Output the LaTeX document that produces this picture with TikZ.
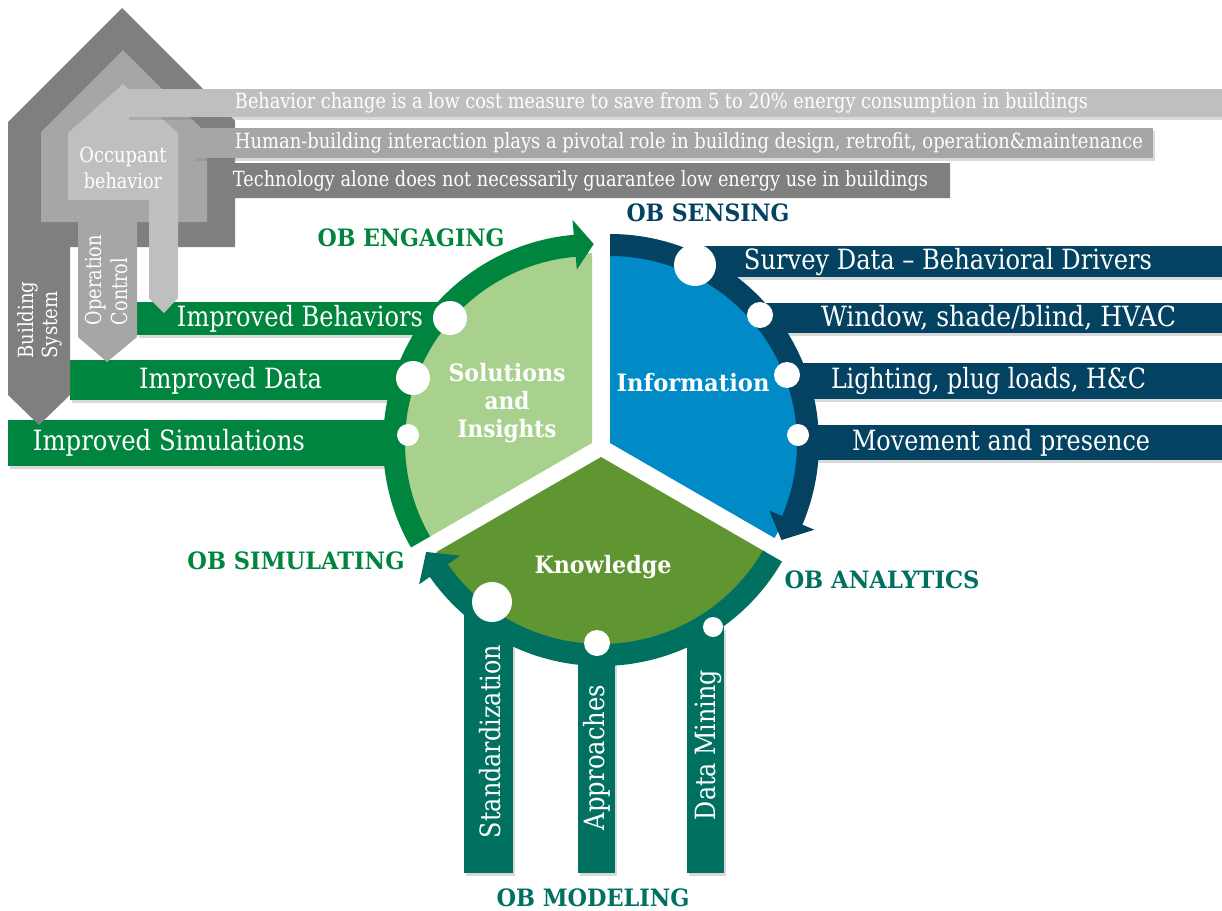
\documentclass[tikz,border=0pt]{standalone}
\usepackage{fontspec}
\setmainfont{DejaVu Serif}
\usepackage{graphicx}
\usetikzlibrary{shadows}

\definecolor{obgreen}{RGB}{0,133,62}
\definecolor{solgreen}{RGB}{169,209,142}
\definecolor{knowgreen}{RGB}{96,150,50}
\definecolor{obteal}{RGB}{0,112,96}
\definecolor{infoblue}{RGB}{0,138,198}
\definecolor{obnavy}{RGB}{3,66,97}
\definecolor{greyA}{RGB}{127,127,127}
\definecolor{greyB}{RGB}{166,166,166}
\definecolor{greyC}{RGB}{191,191,191}

% squeeze or stretch a text to a given width (in bp)
\newcommand{\fitw}[2]{\resizebox{#1bp}{\height}{#2}}

\tikzset{
  lift/.style={drop shadow={shadow xshift=1.5bp, shadow yshift=-2.5bp, opacity=.3}},
  knob/.style={circle, fill=white, inner sep=0pt, minimum size=#1},
  bartext/.style={text=white, inner sep=0pt, font=\fontsize{28}{30}\selectfont},
  greytext/.style={text=white, inner sep=0pt, font=\fontsize{21}{24}\selectfont},
  obtitle/.style={inner sep=0pt, font=\bfseries\fontsize{24}{26}\selectfont},
  sectortext/.style={text=white, inner sep=0pt, align=center,
    font=\bfseries\fontsize{24}{28.5}\selectfont},
}

\begin{document}
\begin{tikzpicture}[x=1bp, y=-1bp]
  \useasboundingbox (0,0) rectangle (1222,911);

  % bars
  \foreach \ya/\yb/\xa/\xb in {302/335/137/450, 360/400/70/413, 420/466/8/408}
    \fill[obgreen, lift] (\xa,\ya) rectangle (\xb,\yb);
  \foreach \ya/\yb/\xa in {246/277/695, 303/333/760, 363/399/787, 425/460/798}
    \fill[obnavy, lift] (\xa,\ya) rectangle (1222,\yb);
  \foreach \xa/\xb/\ya in {464/513/602, 578/615/643, 687/724/627}
    \fill[obteal, lift] (\xa,\ya) rectangle (\xb,873);

  % the house
  \fill[greyA] (8,122) -- (122,8) -- (235,121) -- (235,163) -- (950,163)
    -- (950,198) -- (235,198) -- (235,247) -- (70,247) -- (70,395)
    -- (39,425) -- (8,395) -- cycle;
  \fill[greyB] (41,132) -- (123,50) -- (207,134) -- (207,222) -- (137,222)
    -- (137,337) -- (107,362) -- (78,337) -- (78,222) -- (41,222) -- cycle;
  \fill[greyB, lift] (193,128) rectangle (1153,158);
  \fill[greyC] (68,133) -- (123,84) -- (178,133) -- (178,298) -- (164,313)
    -- (149,298) -- (149,200) -- (68,200) -- cycle;
  \fill[greyC, lift] (127,89) rectangle (1222,117);

  % the three sectors
  \fill[solgreen] (592,443) -- ++(150:190) arc[start angle=150, end angle=270, radius=190] -- cycle;
  \fill[infoblue] (610,443) -- ++(-90:190) arc[start angle=-90, end angle=30, radius=190] -- cycle;
  \fill[knowgreen] (601,457) -- ++(30:190) arc[start angle=30, end angle=150, radius=190] -- cycle;

  % ring arrows
  \begin{scope}[shift={(592,443)}]
    \fill[obgreen] (150:209) arc[start angle=150, end angle=265, radius=209]
      -- (265:224) -- (270.5:199) -- (265:174) -- (265:187)
      arc[start angle=265, end angle=150, radius=187] -- cycle;
  \end{scope}
  \begin{scope}[shift={(610,443)}]
    \fill[obnavy] (-90:209) arc[start angle=-90, end angle=23, radius=209]
      -- (23:222) -- (29.5:197) -- (23:173) -- (23:187)
      arc[start angle=23, end angle=-90, radius=187] -- cycle;
  \end{scope}
  \begin{scope}[shift={(601,457)}]
    \fill[obteal] (30:209) arc[start angle=30, end angle=145, radius=209]
      -- (145:222) -- (151.5:199) -- (145:172) -- (145:187)
      arc[start angle=145, end angle=30, radius=187] -- cycle;
  \end{scope}

  % knobs on the rings
  \node[knob=34bp] (kBeh) at (450,318) {};
  \node[knob=34bp] (kDat) at (413,378) {};
  \node[knob=22bp] (kSim) at (408,435) {};
  \node[knob=42bp] (kSurvey) at (695,265) {};
  \node[knob=26bp] (kWindow) at (760,315) {};
  \node[knob=26bp] (kLight) at (787,375) {};
  \node[knob=22bp] (kMove) at (798,435) {};
  \node[knob=40bp] (kStd) at (492,602) {};
  \node[knob=26bp] (kApp) at (597,643) {};
  \node[knob=20bp] (kMine) at (713,627) {};

  % texts of the house
  \node[greytext] (tCost) at (661.5,103)
    {\fitw{853}{Behavior change is a low cost measure to save from 5 to 20\% energy consumption in buildings}};
  \node[greytext] (tRole) at (689,143)
    {\fitw{908}{Human-building interaction plays a pivotal role in building design, retrofit, operation\&maintenance}};
  \node[greytext] (tTech) at (580.5,180.5)
    {\fitw{695}{Technology alone does not necessarily guarantee low energy use in buildings}};
  \node[greytext, align=center, font=\fontsize{21}{26}\selectfont] (tOcc) at (123,168)
    {\fitw{87}{Occupant}\\\fitw{78}{behavior}};
  \node[greytext, rotate=90, align=left, font=\fontsize{21}{24}\selectfont] (tBuild) at (40,320)
    {\fitw{77}{Building}\\\fitw{67}{System}};
  \node[greytext, rotate=90, align=left, font=\fontsize{22}{27}\selectfont] (tOper) at (106.5,280)
    {\fitw{90}{Operation}\\\fitw{67}{Control}};

  % texts of the bars
  \node[bartext] (tBeh) at (300,319) {\fitw{246}{Improved Behaviors}};
  \node[bartext] (tDat) at (230.5,381) {\fitw{183}{Improved Data}};
  \node[bartext] (tSim) at (169,443) {\fitw{272}{Improved Simulations}};
  \node[bartext] (tSurvey) at (948,262) {\fitw{408}{Survey Data – Behavioral Drivers}};
  \node[bartext] (tWindow) at (998.5,318) {\fitw{355}{Window, shade/blind, HVAC}};
  \node[bartext] (tLight) at (988.5,381) {\fitw{315}{Lighting, plug loads, H\&C}};
  \node[bartext] (tMove) at (1001,442.5) {\fitw{298}{Movement and presence}};
  \node[bartext, rotate=90] (tStd) at (490,741.5) {\fitw{193}{Standardization}};
  \node[bartext, rotate=90] (tApp) at (597,757.5) {\fitw{145}{Approaches}};
  \node[bartext, rotate=90] (tMine) at (708,745) {\fitw{150}{Data Mining}};

  % texts of the sectors
  \node[sectortext] (tSol) at (507,403)
    {\fitw{117}{Solutions}\\\fitw{45}{and}\\\fitw{99}{Insights}};
  \node[sectortext] (tInfo) at (693,383) {\fitw{153}{Information}};
  \node[sectortext] (tKnow) at (603,567) {\fitw{137}{Knowledge}};

  % stage titles
  \node[obtitle, text=obgreen] (lEngage) at (411,238) {\fitw{187}{OB ENGAGING}};
  \node[obtitle, text=obnavy] (lSense) at (708,213) {\fitw{163}{OB SENSING}};
  \node[obtitle, text=obgreen] (lSimul) at (296,561) {\fitw{217}{OB SIMULATING}};
  \node[obtitle, text=obteal] (lAnaly) at (882,580) {\fitw{195}{OB ANALYTICS}};
  \node[obtitle, text=obteal] (lModel) at (593,898) {\fitw{193}{OB MODELING}};
\end{tikzpicture}
\end{document}
